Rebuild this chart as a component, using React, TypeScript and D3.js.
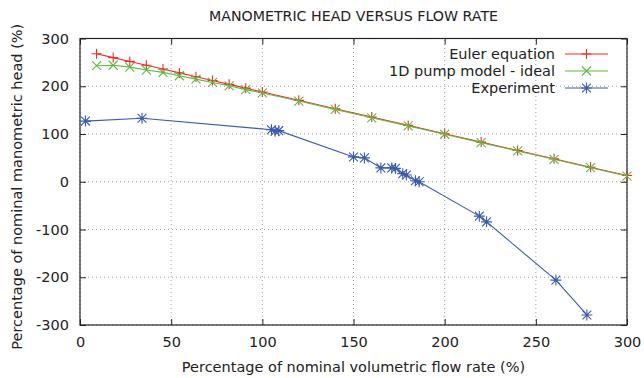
import * as d3 from "d3";
import { useEffect, useRef } from "react";

// Euler equation (ideal head)
const eulerFlow = [9.1, 18.2, 27.3, 36.4, 45.5, 54.5, 63.6, 72.7, 81.8, 90.9, 100, 120, 140, 160, 180, 200, 220, 240, 260, 280, 300];
const eulerHead = [268, 260, 252, 244, 236, 228, 220, 212, 204, 196, 188, 170.5, 153, 135.5, 118, 100.5, 83, 65.5, 48, 30.5, 13];

// 1D pump model - ideal
const modelFlow = [9.1, 18.2, 27.3, 36.4, 45.5, 54.5, 63.6, 72.7, 81.8, 90.9, 100, 120, 140, 160, 180, 200, 220, 240, 260, 280, 300];
const modelHead = [243, 244, 240, 234, 229, 222, 215, 208, 201, 193, 186, 169, 151.5, 134, 117, 99.5, 82, 64.5, 47, 29.5, 12];

// Experiment
const experimentFlow = [3, 34, 105, 107, 109, 150, 156, 165, 171, 173, 177, 179, 184, 186, 219, 223, 261, 278];
const experimentHead = [127, 133, 109, 106, 107, 52, 50, 29, 29, 28, 17, 14, 2, 0, -72, -84, -206, -279];

const xTicks = [0, 50, 100, 150, 200, 250, 300];
const yTicks = [-300, -200, -100, 0, 100, 200, 300];

const seriesNames = ["Euler equation", "1D pump model - ideal", "Experiment"];
const seriesColors = ["#f22a2a", "#5fbb3f", "#3a5bad"];

const width = 644;
const height = 378;
const marginLeft = 80;
const marginRight = 17;
const marginTop = 38.5;
const marginBottom = 53;
const font = "DejaVu Sans, sans-serif";
const fontSize = 14.5;

const plusPath = (s: number) => `M${-s},0H${s}M0,${-s}V${s}`;
const crossPath = (s: number) => `M${-s},${-s}L${s},${s}M${-s},${s}L${s},${-s}`;
const starPath = (s: number) => plusPath(s) + crossPath(s * 0.8);
const markers = [() => plusPath(5), () => crossPath(4.5), () => starPath(5.5)];

const App = () => {
    const ref = useRef<SVGSVGElement>(null);

    useEffect(() => {
        const svg = d3.select(ref.current);
        svg.selectAll("*").remove();

        const x = d3.scaleLinear().domain([0, 300]).range([marginLeft, width - marginRight]);
        const y = d3.scaleLinear().domain([-300, 300]).range([height - marginBottom, marginTop]);

        // grid
        const grid = svg.append("g")
            .attr("stroke", "#a0a0a0")
            .attr("stroke-dasharray", "1,3")
            .attr("stroke-width", 1);
        grid.selectAll(".gx").data(xTicks).join("line")
            .attr("x1", (d) => x(d)).attr("x2", (d) => x(d))
            .attr("y1", y(-300)).attr("y2", y(300));
        grid.selectAll(".gy").data(yTicks).join("line")
            .attr("class", "gy")
            .attr("x1", x(0)).attr("x2", x(300))
            .attr("y1", (d) => y(d)).attr("y2", (d) => y(d));

        const plain = (d: d3.NumberValue) => String(d);

        // axes, ticks inward and mirrored
        svg.append("g")
            .attr("transform", `translate(0,${y(-300)})`)
            .call(d3.axisBottom(x).tickValues(xTicks).tickFormat(plain).tickSize(-6).tickPadding(12).tickSizeOuter(0))
            .call((g) => g.select(".domain").remove());
        svg.append("g")
            .attr("transform", `translate(0,${y(300)})`)
            .call(d3.axisTop(x).tickValues(xTicks).tickSize(-6).tickFormat(() => "").tickSizeOuter(0))
            .call((g) => g.select(".domain").remove());
        svg.append("g")
            .attr("transform", `translate(${x(0)},0)`)
            .call(d3.axisLeft(y).tickValues(yTicks).tickFormat(plain).tickSize(-6).tickPadding(11).tickSizeOuter(0))
            .call((g) => g.select(".domain").remove());
        svg.append("g")
            .attr("transform", `translate(${x(300)},0)`)
            .call(d3.axisRight(y).tickValues(yTicks).tickSize(-6).tickFormat(() => "").tickSizeOuter(0))
            .call((g) => g.select(".domain").remove());

        svg.selectAll(".tick line").attr("stroke", "#222");
        svg.selectAll(".tick text")
            .attr("font-family", font)
            .attr("font-size", fontSize)
            .attr("fill", "#222");

        svg.append("rect")
            .attr("x", x(0)).attr("y", y(300))
            .attr("width", x(300) - x(0)).attr("height", y(-300) - y(300))
            .attr("fill", "none")
            .attr("stroke", "#222")
            .attr("stroke-width", 1.2);

        // series
        const series = [
            eulerFlow.map((f, i) => [f, eulerHead[i]]),
            modelFlow.map((f, i) => [f, modelHead[i]]),
            experimentFlow.map((f, i) => [f, experimentHead[i]]),
        ];
        const line = d3.line<number[]>().x((d) => x(d[0])).y((d) => y(d[1]));

        series.forEach((data, k) => {
            const g = svg.append("g").attr("stroke", seriesColors[k]).attr("fill", "none");
            g.append("path").attr("d", line(data)).attr("stroke-width", 1.1);
            g.selectAll("path.m").data(data).join("path")
                .attr("class", "m")
                .attr("transform", (d) => `translate(${x(d[0])},${y(d[1])})`)
                .attr("d", markers[k]())
                .attr("stroke-width", 1.1);
        });

        // legend
        const legend = svg.append("g");
        seriesNames.forEach((name, k) => {
            const ly = 54 + k * 17;
            legend.append("text")
                .attr("x", 555).attr("y", ly).attr("dy", "0.35em")
                .attr("text-anchor", "end")
                .attr("font-family", font).attr("font-size", fontSize).attr("fill", "#222")
                .text(name);
            legend.append("line")
                .attr("x1", 565).attr("x2", 608).attr("y1", ly).attr("y2", ly)
                .attr("stroke", seriesColors[k]).attr("stroke-width", 1.1);
            legend.append("path")
                .attr("transform", `translate(586.5,${ly})`)
                .attr("d", markers[k]())
                .attr("stroke", seriesColors[k]).attr("fill", "none").attr("stroke-width", 1.1);
        });

        // titles
        svg.append("text")
            .attr("x", (x(0) + x(300)) / 2).attr("y", 16).attr("dy", "0.35em")
            .attr("text-anchor", "middle")
            .attr("font-family", font).attr("font-size", 14.2).attr("fill", "#222")
            .text("MANOMETRIC HEAD VERSUS FLOW RATE");
        svg.append("text")
            .attr("x", (x(0) + x(300)) / 2).attr("y", 367).attr("dy", "0.35em")
            .attr("text-anchor", "middle")
            .attr("font-family", font).attr("font-size", fontSize).attr("fill", "#222")
            .text("Percentage of nominal volumetric flow rate (%)");
        svg.append("text")
            .attr("transform", `translate(17,${(y(300) + y(-300)) / 2 + 5}) rotate(-90)`)
            .attr("dy", "0.35em")
            .attr("text-anchor", "middle")
            .attr("font-family", font).attr("font-size", fontSize).attr("fill", "#222")
            .text("Percentage of nominal manometric head (%)");
    }, []);

    return (
        <svg
            ref={ref}
            width={width}
            height={height}
            style={{ position: "absolute", left: 0, top: 0, background: "#fff" }}
        />
    );
};

export default App;
